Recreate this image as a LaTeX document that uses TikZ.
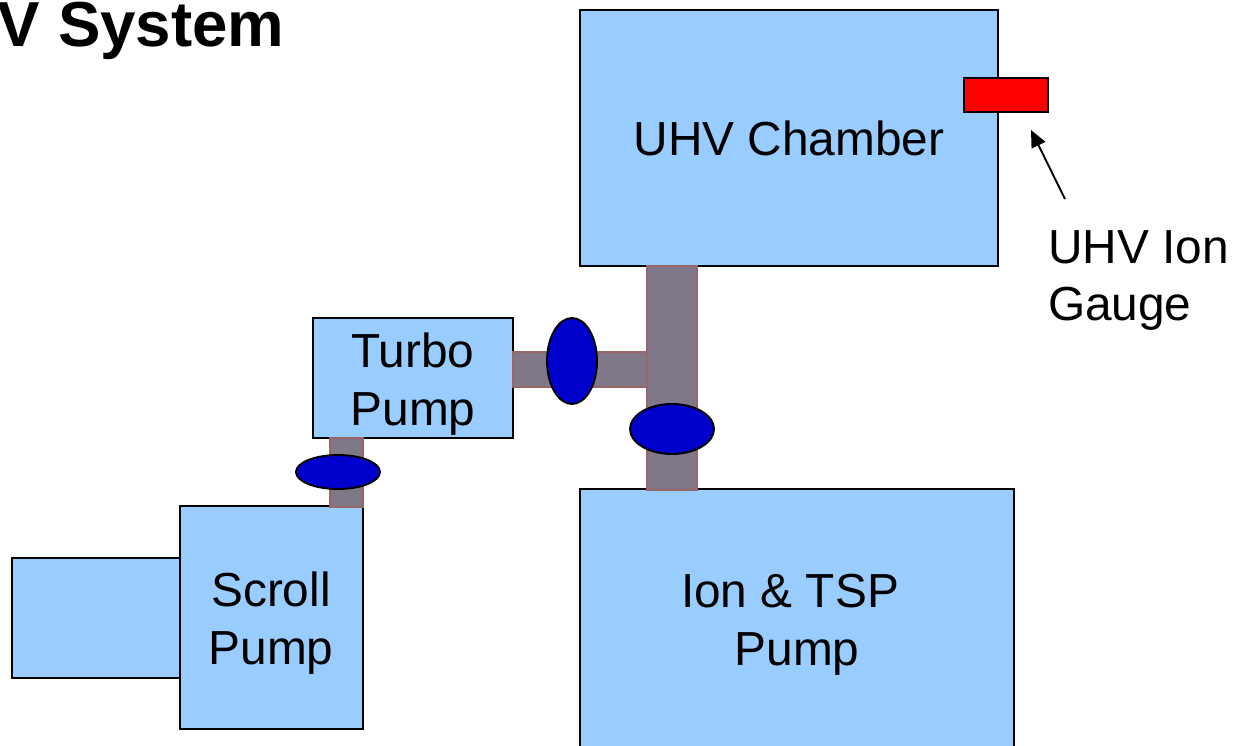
\documentclass[tikz,border=0pt]{standalone}
\usepackage{fontspec}
\setmainfont{Liberation Sans}
\definecolor{boxblue}{HTML}{99CCFF}
\definecolor{pipefill}{HTML}{807788}
\definecolor{pipeedge}{HTML}{996666}
\definecolor{valveblue}{HTML}{0000CC}
\tikzset{
  chamberbox/.style={draw=black,fill=boxblue,line width=1.9pt,rectangle,inner sep=0pt,outer sep=0pt,align=center,font=\fontsize{47.8}{58}\selectfont},
  pipebox/.style={draw=pipeedge,fill=pipefill,line width=1.6pt,rectangle,inner sep=0pt,outer sep=0pt},
  valve/.style={draw=black,fill=valveblue,line width=1.9pt,ellipse,inner sep=0pt,outer sep=0pt},
  sized/.style n args={2}{minimum width=#1pt,minimum height=#2pt},
  plain/.style={inner sep=0pt,outer sep=0pt,align=center,font=\fontsize{47.8}{58}\selectfont},
}
\usetikzlibrary{shapes.geometric,arrows.meta}
\begin{document}
\begin{tikzpicture}[x=1pt,y=-1pt]
\useasboundingbox (0,0) rectangle (1234,745);
\clip (0,0) rectangle (1234,745);
% boxes
\node[chamberbox,sized={418}{256}] (uhv) at (789,138) {};
\node[chamberbox,sized={434}{320}] (ion) at (797,649) {};
\node[chamberbox,sized={200}{120}] (turbo) at (413,378) {};
\node[chamberbox,sized={168}{120}] (side) at (96,618) {};
\node[chamberbox,sized={183}{223}] (scroll) at (271.5,617.5) {};
\node[draw=black,fill=red,line width=1.9pt,rectangle,inner sep=0pt,outer sep=0pt,sized={84}{34}] (gauge) at (1006,95) {};
% pipes
\node[pipebox,sized={50}{224}] (pipev) at (672,378) {};
\node[pipebox,sized={134}{35}] (pipeh) at (580,369.5) {};
\node[pipebox,sized={33}{69}] (pipes) at (346.5,472.5) {};
% valves
\node[valve,sized={50}{86}] (v1) at (572,361) {};
\node[valve,sized={84}{50}] (v2) at (672,429) {};
\node[valve,sized={84}{34}] (v3) at (338,472) {};
% texts
\node[plain,anchor=base] (uhvtext) at (789,155) {UHV Chamber};
\node[plain,anchor=base] (turbotext1) at (413,367) {Turbo};
\node[plain,anchor=base] (turbotext2) at (413,425) {Pump};
\node[plain,anchor=base] (scrolltext1) at (271,606) {Scroll};
\node[plain,anchor=base] (scrolltext2) at (271,664) {Pump};
\node[plain,anchor=base] (iontext) at (790,607) {Ion \& TSP};
\node[plain,anchor=base] (pumptext) at (797,665) {Pump};
\node[plain,anchor=base west] (gaugetext) at (1048,263) {UHV Ion};
\node[plain,anchor=base west] (gaugetext2) at (1048,320) {Gauge};
\node[inner sep=0pt,outer sep=0pt,anchor=base west,font=\bfseries\fontsize{63.6}{70}\selectfont] (title) at (-2,46) {V System};
% arrow
\coordinate (arrowstart) at (1065,199);
\coordinate (arrowend) at (1031,130);
\draw[line width=1.9pt,-{Triangle[length=17pt,width=15pt]}] (arrowstart) -- (arrowend);
\end{tikzpicture}
\end{document}
